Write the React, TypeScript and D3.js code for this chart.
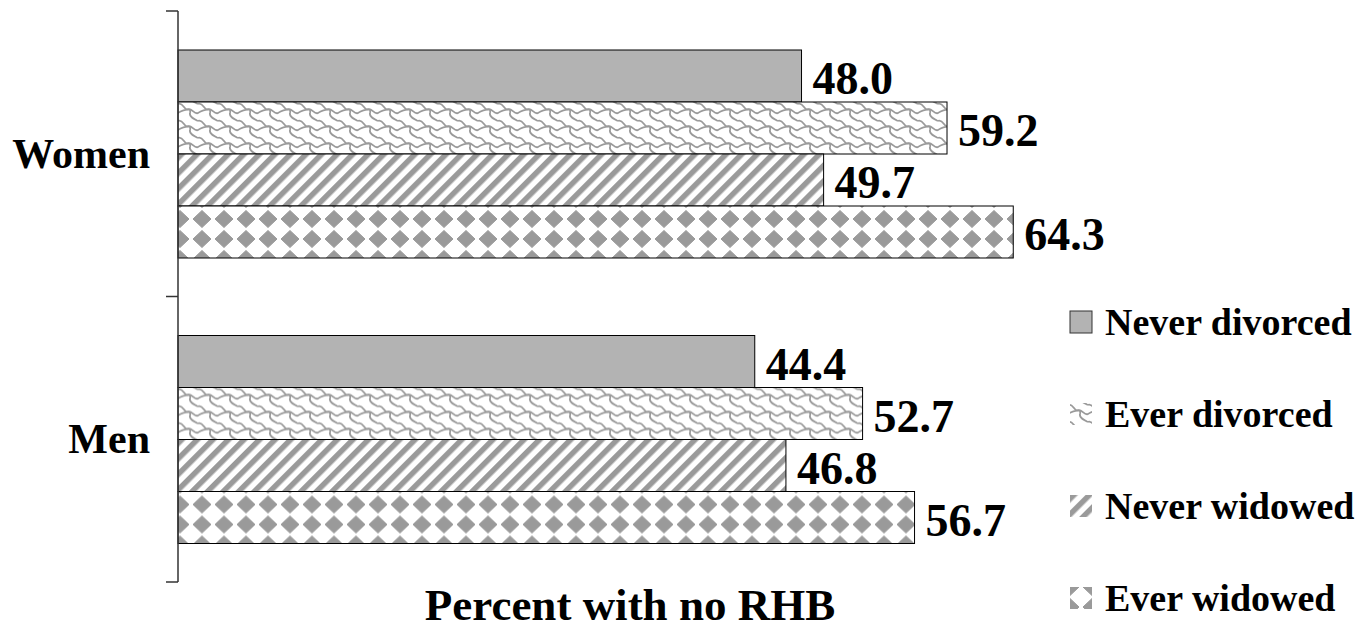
import React from "react";
import * as d3 from "d3";

const groups = ["Women", "Men"];
const series = ["Never divorced", "Ever divorced", "Never widowed", "Ever widowed"];
const womenValues = [48.0, 59.2, 49.7, 64.3];
const menValues = [44.4, 52.7, 46.8, 56.7];
const valuesByGroup: Record<string, number[]> = { Women: womenValues, Men: menValues };
const xTitle = "Percent with no RHB";

const W = 1369;
const H = 630;
const FONT = "'Liberation Serif', 'Times New Roman', serif";
const GRAY = "#9a9a9a";

const fills = ["#b3b3b3", "url(#pat-weave)", "url(#pat-stripe)", "url(#pat-diamond)"];
// where each legend swatch sits inside its texture, so the visible part reads well
const swatchShift = [
  [0, 0],
  [2, 0],
  [0, 0],
  [2, 13],
];

// one repeat of the woven texture, drawn with wrapped copies so it tiles seamlessly
const chain = "C4,0 6,6 8,7 C10,8 13,6 12,11 C11,15 16,17 20,19";
const link = "C13,4 16,13 20,11 C24,9 26,7 29,8";

export default function App() {
  const axisX = 178;
  const x = d3.scaleLinear().domain([0, 70]).range([axisX, axisX + 70 * 12.99]);
  const y0 = d3.scaleBand<string>().domain(groups).range([11, 582]);
  const y1 = d3.scaleBand<string>().domain(series).range([39, 247]);
  const ticks = [11, 296.5, 582];

  return (
    <svg width={W} height={H} style={{ position: "absolute", left: 0, top: 0, background: "#fff" }}>
      <defs>
        <pattern id="pat-weave" width="20" height="17" patternUnits="userSpaceOnUse">
          <rect width="20" height="17" fill="#fff" />
          <g fill="none" stroke={GRAY} strokeWidth="1.8">
            {[
              [0, 0],
              [-20, -17],
              [20, 17],
              [-20, 0],
              [20, 0],
              [0, -17],
              [0, 17],
            ].map(([dx, dy], k) => (
              <g key={k} transform={`translate(${dx},${dy})`}>
                <path d={`M0,2 ${chain}`} />
                <path d={`M9,8 ${link}`} />
              </g>
            ))}
          </g>
        </pattern>
        <pattern
          id="pat-stripe"
          width="11"
          height="11"
          patternUnits="userSpaceOnUse"
          patternTransform="rotate(45)"
        >
          <rect width="11" height="11" fill="#fff" />
          <rect x="0" y="0" width="5.5" height="11" fill={GRAY} />
        </pattern>
        <pattern id="pat-diamond" width="22" height="20" patternUnits="userSpaceOnUse" x="-9" y="3">
          <rect width="22" height="20" fill="#fff" />
          <path d="M11,1.5 L20,10 L11,18.5 L2,10 Z" fill={GRAY} stroke={GRAY} strokeWidth="1" strokeLinejoin="round" />
        </pattern>
      </defs>

      {/* bars, each drawn in its own local frame so the textures start at the bar's top edge */}
      {groups.map((g) => (
        <g key={g}>
          {series.map((s, i) => {
            const v = valuesByGroup[g][i];
            const top = y0(g)! + y1(s)!;
            const h = y1.bandwidth();
            return (
              <g key={s}>
                <g transform={`translate(${x(0)},${top})`}>
                  <rect
                    x={0}
                    y={0}
                    width={x(v) - x(0)}
                    height={h}
                    fill={fills[i]}
                    stroke="#000"
                    strokeWidth={1}
                  />
                </g>
                <text
                  x={x(v) + 11}
                  y={top + h / 2 + 18}
                  fontFamily={FONT}
                  fontWeight="bold"
                  fontSize={46}
                  fill="#000"
                >
                  {v.toFixed(1)}
                </text>
              </g>
            );
          })}
        </g>
      ))}

      {/* category axis */}
      <line x1={axisX} x2={axisX} y1={ticks[0]} y2={ticks[2]} stroke="#333" strokeWidth={1.5} />
      {ticks.map((t) => (
        <line key={t} x1={axisX - 12} x2={axisX} y1={t} y2={t} stroke="#333" strokeWidth={1.5} />
      ))}
      {groups.map((g) => (
        <text
          key={g}
          x={150}
          y={y0(g)! + y0.bandwidth() / 2 + 14}
          textAnchor="end"
          fontFamily={FONT}
          fontWeight="bold"
          fontSize={42}
          fill="#000"
        >
          {g}
        </text>
      ))}

      {/* axis title */}
      <text x={630} y={620} textAnchor="middle" fontFamily={FONT} fontWeight="bold" fontSize={45} fill="#000">
        {xTitle}
      </text>

      {/* legend */}
      {series.map((s, i) => {
        const by = 335 + i * 92;
        const [sx, sy] = swatchShift[i];
        return (
          <g key={s}>
            <g transform={`translate(${1070 - sx},${by - 24 - sy})`}>
              <rect
                x={sx}
                y={sy}
                width={22}
                height={22}
                fill={fills[i]}
                stroke={i === 0 ? "#333" : "none"}
                strokeWidth={1}
              />
            </g>
            <text x={1105} y={by} fontFamily={FONT} fontWeight="bold" fontSize={38} fill="#000">
              {s}
            </text>
          </g>
        );
      })}
    </svg>
  );
}
